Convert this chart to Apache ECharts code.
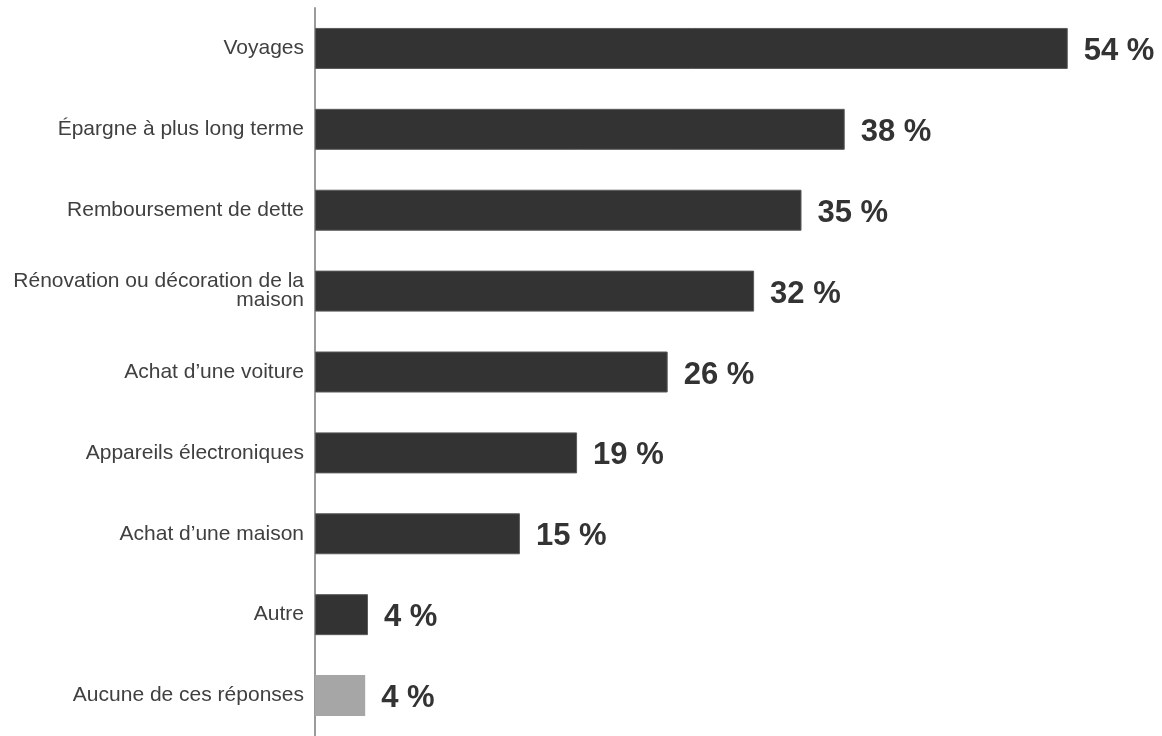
<!DOCTYPE html>
<html>
<head>
<meta charset="utf-8">
<script src="https://cdn.jsdelivr.net/npm/echarts@6/dist/echarts.min.js"></script>
<style>
html,body{margin:0;padding:0;background:#fff;}
#chart{width:1162px;height:736px;}
</style>
</head>
<body>
<div id="chart"></div>
<script>
const categories = [
  "Voyages",
  "Épargne à plus long terme",
  "Remboursement de dette",
  "Rénovation ou décoration de la\nmaison",
  "Achat d’une voiture",
  "Appareils électroniques",
  "Achat d’une maison",
  "Autre",
  "Aucune de ces réponses"
];
const values = [54, 38, 34.9, 31.5, 25.3, 18.8, 14.7, 3.8, 3.6];
const valueLabels = ["54 %", "38 %", "35 %", "32 %", "26 %", "19 %", "15 %", "4 %", "4 %"];
const highlightIndex = 8; // "Aucune de ces réponses" drawn in light gray

const chart = echarts.init(document.getElementById('chart'), null, {renderer: 'canvas'});
chart.setOption({
  animation: false,
  grid: {left: 315, top: 8, width: 836.4, height: 729, containLabel: false},
  xAxis: {
    type: 'value', min: 0, max: 60,
    show: false
  },
  yAxis: {
    type: 'category',
    data: categories,
    inverse: true,
    axisLine: {show: true, lineStyle: {color: '#9a9a9a', width: 2}},
    axisTick: {show: false},
    axisLabel: {
      color: '#404040',
      fontFamily: 'Liberation Sans, Arial, sans-serif',
      fontSize: 21,
      lineHeight: 19,
      align: 'right',
      margin: 11
    },
    splitLine: {show: false}
  },
  series: [{
    type: 'bar',
    barWidth: 41,
    data: values.map((v, i) => ({
      value: v,
      itemStyle: i === highlightIndex
        ? {color: '#a6a6a6', borderColor: '#b0b0b0', borderWidth: 0}
        : {color: '#333333', borderColor: '#5a5a5a', borderWidth: 1}
    })),
    label: {
      show: true,
      position: 'right',
      distance: 16,
      offset: [0, 3],
      formatter: p => valueLabels[p.dataIndex],
      color: '#333333',
      fontFamily: 'Liberation Sans, Arial, sans-serif',
      fontWeight: 'bold',
      fontSize: 31
    }
  }]
});
</script>
</body>
</html>
